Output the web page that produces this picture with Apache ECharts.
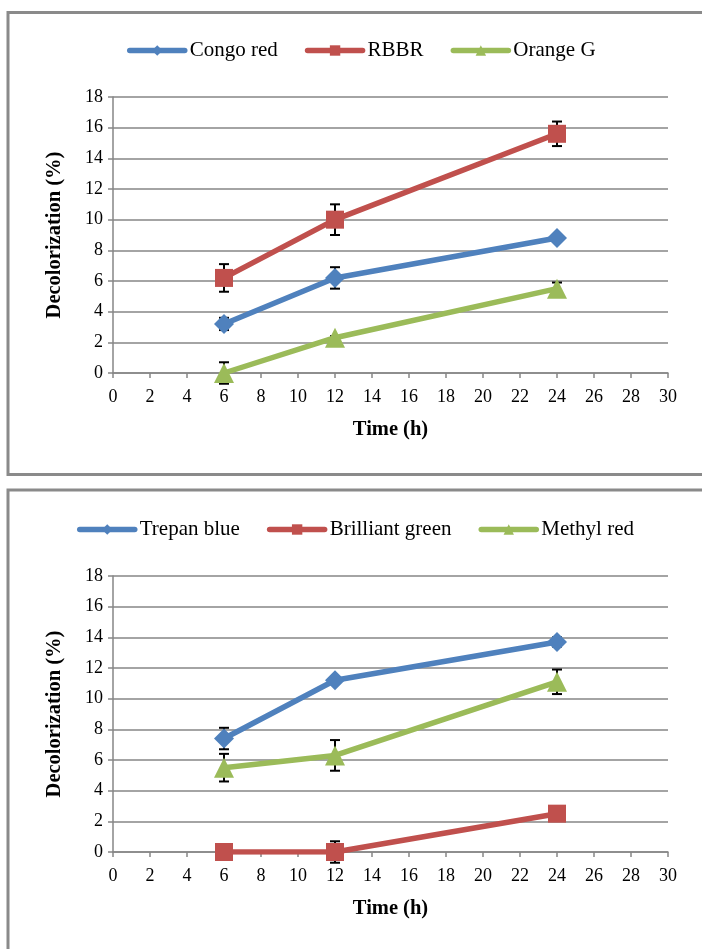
<!DOCTYPE html>
<html>
<head>
<meta charset="utf-8">
<script src="https://cdn.jsdelivr.net/npm/echarts@6/dist/echarts.min.js"></script>
<style>
html,body{margin:0;padding:0;background:#fff;}
#c{width:702px;height:949px;}
</style>
</head>
<body>
<div id="c"></div>
<script>
// ---- data ----
var times = [6, 12, 24];
var xTicks = [0,2,4,6,8,10,12,14,16,18,20,22,24,26,28,30];

var congoRed = [3.2, 6.2, 8.8];
var congoRedErr = [0.4, 0.7, 0.2];
var rbbr = [6.2, 10.0, 15.6];
var rbbrErr = [0.9, 1.0, 0.8];
var orangeG = [0.0, 2.3, 5.5];
var orangeGErr = [0.7, 0.1, 0.4];

var trepanBlue = [7.4, 11.2, 13.7];
var trepanBlueErr = [0.7, 0.2, 0.3];
var brilliantGreen = [0.0, 0.0, 2.5];
var brilliantGreenErr = [0.2, 0.7, 0.2];
var methylRed = [5.5, 6.3, 11.1];
var methylRedErr = [0.9, 1.0, 0.8];

var BLUE = '#4F81BD', RED = '#C0504D', GREEN = '#9BBB59';
var FONT = 'Liberation Serif';
var AXC = '#868686';

function pairs(vals){ return times.map(function(t,i){ return [t, vals[i]]; }); }
function errData(vals, errs){ return times.map(function(t,i){ return [t, vals[i]-errs[i], vals[i]+errs[i]]; }); }

function lineSeries(name, vals, color, symbol, size, idx){
  return {
    name: name, type: 'line', xAxisIndex: idx, yAxisIndex: idx,
    data: pairs(vals), symbol: symbol, symbolSize: size,
    lineStyle: {color: color, width: 5.5},
    itemStyle: {color: color},
    z: 3, animation: false
  };
}
function errSeries(vals, errs, idx){
  return {
    type: 'custom', xAxisIndex: idx, yAxisIndex: idx, z: 2, silent: true, animation: false,
    data: errData(vals, errs),
    encode: {x: 0, y: [1, 2]},
    renderItem: function(params, api){
      var x = api.value(0);
      var lo = api.coord([x, api.value(1)]);
      var hi = api.coord([x, api.value(2)]);
      var w = 5;
      var st = {stroke: '#000', lineWidth: 2};
      return {type: 'group', children: [
        {type: 'line', shape: {x1: lo[0], y1: lo[1], x2: hi[0], y2: hi[1]}, style: st},
        {type: 'line', shape: {x1: lo[0]-w, y1: lo[1], x2: lo[0]+w, y2: lo[1]}, style: st},
        {type: 'line', shape: {x1: hi[0]-w, y1: hi[1], x2: hi[0]+w, y2: hi[1]}, style: st}
      ]};
    }
  };
}

function xAxis(idx){
  return {
    type: 'value', gridIndex: idx, min: 0, max: 30, interval: 2,
    name: 'Time (h)', nameLocation: 'middle', nameGap: 46,
    nameTextStyle: {fontFamily: FONT, fontSize: 20.5, fontWeight: 'bold', color: '#000'},
    axisLine: {show: true, lineStyle: {color: AXC, width: 1.5}},
    axisTick: {show: true, inside: false, length: 5, lineStyle: {color: AXC, width: 1.5}},
    axisLabel: {fontFamily: FONT, fontSize: 18, color: '#000', margin: 15},
    splitLine: {show: false}
  };
}
function yAxis(idx){
  return {
    type: 'value', gridIndex: idx, min: 0, max: 18, interval: 2,
    name: 'Decolorization (%)', nameLocation: 'middle', nameGap: 48, nameRotate: 90,
    nameTextStyle: {fontFamily: FONT, fontSize: 20.5, fontWeight: 'bold', color: '#000'},
    axisLine: {show: true, lineStyle: {color: AXC, width: 1.5}},
    axisTick: {show: true, inside: false, length: 5, lineStyle: {color: AXC, width: 1.5}},
    axisLabel: {fontFamily: FONT, fontSize: 18, color: '#000', margin: 10},
    splitLine: {show: true, lineStyle: {color: AXC, width: 1.5}}
  };
}
function legend(names, top, left){
  return {
    data: names, top: top, left: left, itemWidth: 55, itemHeight: 13, itemGap: 27,
    lineStyle: {width: 5.5, cap: 'round'},
    textStyle: {fontFamily: FONT, fontSize: 21, color: '#000'},
    selectedMode: false
  };
}

var chart = echarts.init(document.getElementById('c'), null, {renderer: 'canvas'});
chart.setOption({
  backgroundColor: '#fff',
  animation: false,
  graphic: [
    {type: 'rect', shape: {x: 8, y: 12.5, width: 720, height: 462}, style: {fill: 'none', stroke: '#8a8a8a', lineWidth: 3}, z: 0},
    {type: 'rect', shape: {x: 8, y: 490, width: 720, height: 500}, style: {fill: 'none', stroke: '#8a8a8a', lineWidth: 3}, z: 0}
  ],
  legend: [
    legend(['Congo red', 'RBBR', 'Orange G'], 35, 122),
    legend(['Trepan blue', 'Brilliant green', 'Methyl red'], 514, 72)
  ],
  grid: [
    {left: 113, top: 97, width: 555, height: 276},
    {left: 113, top: 576, width: 555, height: 276}
  ],
  xAxis: [xAxis(0), xAxis(1)],
  yAxis: [yAxis(0), yAxis(1)],
  series: [
    lineSeries('Congo red', congoRed, BLUE, 'diamond', 20, 0),
    lineSeries('RBBR', rbbr, RED, 'rect', 18, 0),
    lineSeries('Orange G', orangeG, GREEN, 'triangle', 20, 0),
    errSeries(congoRed, congoRedErr, 0),
    errSeries(rbbr, rbbrErr, 0),
    errSeries(orangeG, orangeGErr, 0),
    lineSeries('Trepan blue', trepanBlue, BLUE, 'diamond', 20, 1),
    lineSeries('Brilliant green', brilliantGreen, RED, 'rect', 18, 1),
    lineSeries('Methyl red', methylRed, GREEN, 'triangle', 20, 1),
    errSeries(trepanBlue, trepanBlueErr, 1),
    errSeries(brilliantGreen, brilliantGreenErr, 1),
    errSeries(methylRed, methylRedErr, 1)
  ]
});
</script>
</body>
</html>
